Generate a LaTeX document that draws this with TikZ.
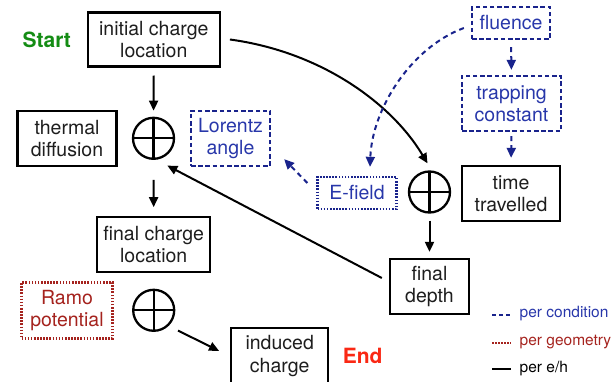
\documentclass[tikz,border=0pt]{standalone}
\usepackage{fontspec}
\setmainfont{TeX Gyre Heros}
\usetikzlibrary{arrows.meta}
\definecolor{txt}{RGB}{30,30,30}
\definecolor{tblue}{RGB}{40,55,170}
\definecolor{cblue}{RGB}{25,35,140}
\definecolor{gred}{RGB}{165,35,30}
\definecolor{sgreen}{RGB}{20,140,20}
\definecolor{ered}{RGB}{250,40,20}
\newcommand{\boxfont}{\fontsize{19.5}{22.3}\selectfont}
\newcommand{\legfont}{\fontsize{15.5}{18}\selectfont}
\begin{document}
\begin{tikzpicture}[x=1pt,y=-1pt,
  box/.style={draw=black, line width=2.3pt, fill=white, align=center,
    inner sep=1pt, font=\boxfont, text=txt},
  condbox/.style={box, draw=cblue, text=tblue, dash pattern=on 4.5pt off 2.7pt},
  dotbox/.style={box, draw=cblue, text=tblue, dash pattern=on 1.6pt off 1.5pt},
  geombox/.style={box, draw=gred, text=gred, dash pattern=on 1.6pt off 1.5pt},
  oplus/.style={circle, draw, line width=2.3pt, minimum size=41pt, inner sep=0pt,
    path picture={\draw[line width=2.3pt]
      (path picture bounding box.north) -- (path picture bounding box.south)
      (path picture bounding box.west) -- (path picture bounding box.east);}},
  arr/.style={-{Triangle[length=10pt,width=9pt]}, line width=2pt, draw=black},
  carr/.style={-{Triangle[length=10pt,width=9pt]}, line width=2pt, draw=cblue,
    dash pattern=on 5pt off 4pt},
  tag/.style={font=\fontsize{21}{24}\selectfont\bfseries},
  legtext/.style={font=\legfont, anchor=base west, inner sep=0pt}
]
\useasboundingbox (0,0) rectangle (614,382);

% per e/h chain
\node[box, minimum width=132pt, minimum height=54pt] (init) at (153.8,39.5) {initial charge\\location};
\node[oplus] (op1) at (153.5,138.3) {};
\node[box, minimum width=99pt, minimum height=55pt] (therm) at (67,138.4) {thermal\\diffusion};
\node[condbox, minimum width=79pt, minimum height=55pt] (lor) at (230.5,138.5) {Lorentz\\angle};
\node[box, minimum width=113pt, minimum height=55pt] (fcl) at (153.7,244.8) {final charge\\location};
\node[oplus] (op2) at (153.7,310.3) {};
\node[geombox, minimum width=91pt, minimum height=56pt] (ramo) at (67,310.5) {Ramo\\potential};
\node[box, minimum width=97pt, minimum height=56pt] (ind) at (279.7,356) {induced\\charge};

% drift branch
\node[condbox, minimum width=78pt, minimum height=32pt] (flu) at (511,23) {fluence};
\node[condbox, minimum width=99pt, minimum height=55pt] (trap) at (511.5,103.5) {trapping\\constant};
\node[box, minimum width=98pt, minimum height=55pt] (time) at (511,193.5) {time\\travelled};
\node[oplus] (op3) at (429.5,192) {};
\node[dotbox, minimum width=79pt, minimum height=32pt] (ef) at (357,193) {E-field};
\node[box, minimum width=79pt, minimum height=55pt] (fdep) at (429.5,286.5) {final\\depth};

% labels
\node[tag, text=sgreen] (start) at (46.7,40.3) {Start};
\node[tag, text=ered] (end) at (362.7,356) {End};

% connectors
\draw[arr, shorten <=8pt, shorten >=6pt] (init.south) -- (op1.north);
\draw[arr, shorten <=20pt, shorten >=9pt] (op1.south) -- (fcl.north);
\draw[arr] ([shift={(9,5)}]op2.south east) -- ([shift={(-11,24)}]ind.north west);
\draw[arr] ([shift={(9,0)}]init.east) .. controls (322,52) and (392,104) .. ([shift={(-2,-7)}]op3.north);
\draw[arr, shorten <=7pt, shorten >=6pt] (op3.south) -- (fdep.north);
\draw[arr] ([shift={(-7,-8.5)}]fdep.west) -- ([shift={(4,8)}]op1.-63);
\draw[carr, shorten <=7pt, shorten >=5pt] (flu.south) -- (trap.north);
\draw[carr, shorten <=4pt, shorten >=7pt] (trap.south) -- (time.north);
\draw[carr] ([shift={(-7,5)}]flu.west) .. controls (410,48) and (372,110) .. ([shift={(13,-9)}]ef.north);
\draw[carr] ([shift={(-9,-10)}]ef.west) -- ([shift={(13,-8)}]lor.south east);

% legend
\coordinate (l1a) at (492,315.5); \coordinate (l1b) at (511,315.5);
\coordinate (l2a) at (492,343); \coordinate (l2b) at (511,343);
\coordinate (l3a) at (492,369.5); \coordinate (l3b) at (511,369.5);
\draw[cblue, line width=2pt, dash pattern=on 4pt off 3pt] (l1a) -- (l1b);
\draw[gred, line width=2pt, dash pattern=on 1.5pt off 1.5pt] (l2a) -- (l2b);
\draw[black, line width=2pt] (l3a) -- (l3b);
\node[legtext, text=tblue] (lg1) at (519.5,317.5) {per condition};
\node[legtext, text=gred] (lg2) at (519.5,345.5) {per geometry};
\node[legtext, text=black] (lg3) at (519.5,372.5) {per e/h};
\end{tikzpicture}
\end{document}
